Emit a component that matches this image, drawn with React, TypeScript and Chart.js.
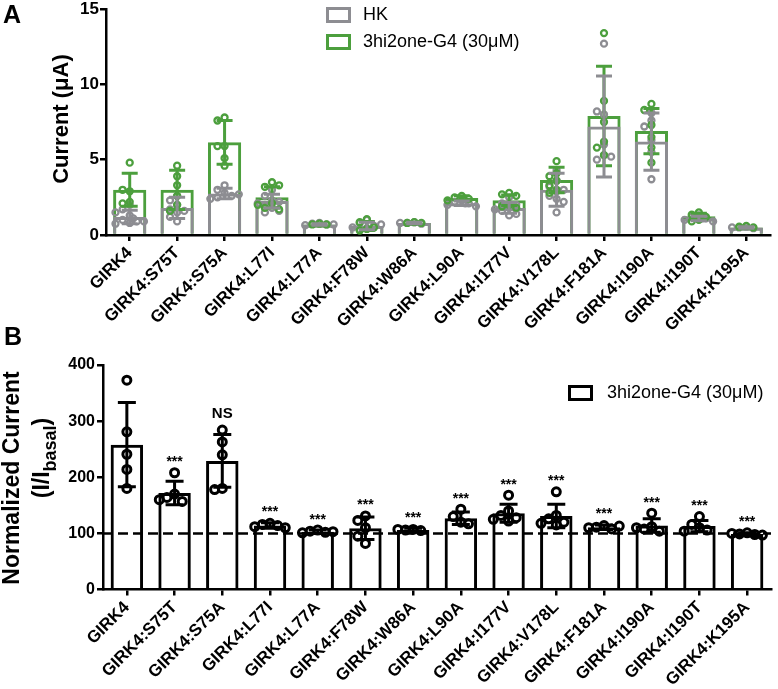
import React, { useEffect, useRef } from "react";
import { Chart, registerables } from "chart.js";

Chart.register(...registerables);

const FONT = "'Liberation Sans', Arial, Helvetica, sans-serif";
const GRAY = "#8d8d92";
const GREEN = "#4c9f3d";
const BLACK = "#000000";

// ---------- data ----------
const categories = [
  "GIRK4", "GIRK4:S75T", "GIRK4:S75A", "GIRK4:L77I", "GIRK4:L77A", "GIRK4:F78W", "GIRK4:W86A",
  "GIRK4:L90A", "GIRK4:I177V", "GIRK4:V178L", "GIRK4:F181A", "GIRK4:I190A", "GIRK4:I190T", "GIRK4:K195A",
];

// Panel A
const panelATitle = "Current (μA)";
const hkLabel = "HK";
const g4Label = "3hi2one-G4 (30μM)";
const topMin = 0;
const topMax = 15;
const topStep = 5;
const hkMean = [1.2, 1.8, 2.75, 2.25, 0.7, 0.6, 0.8, 2.1, 1.8, 3.0, 7.2, 6.2, 1.1, 0.5];
const hkSD = [0.45, 0.7, 0.35, 0.45, 0.05, 0.25, 0.05, 0.15, 0.35, 1.1, 3.35, 1.9, 0.15, 0.05];
const g4Mean = [3.0, 3.0, 6.15, 2.5, 0.7, 0.6, 0.8, 2.45, 2.3, 3.65, 7.9, 6.9, 1.25, 0.5];
const g4SD = [1.1, 1.3, 1.45, 0.7, 0.05, 0.3, 0.05, 0.15, 0.35, 0.85, 3.3, 1.5, 0.2, 0.05];
const hkPoints = [
  [2.0, 1.7, 1.3, 1.0, 0.9, 0.8, 0.75, 0.9, 1.1, 1.5],
  [2.6, 2.3, 2.0, 1.7, 1.5, 1.2, 0.9, 1.6],
  [3.3, 3.0, 2.8, 2.6, 2.5, 2.4, 2.7],
  [3.0, 2.6, 2.3, 2.0, 1.8, 1.6, 1.5, 2.2, 2.1],
  [0.8, 0.75, 0.7, 0.65, 0.7],
  [1.0, 0.8, 0.6, 0.45, 0.35, 0.5, 0.7],
  [0.85, 0.8, 0.75, 0.8],
  [2.3, 2.2, 2.1, 2.0, 1.9, 2.1],
  [2.5, 2.1, 1.8, 1.6, 1.4, 1.3, 2.0, 1.7],
  [4.3, 3.6, 3.2, 2.9, 2.6, 2.4, 1.5, 3.0, 2.2],
  [12.7, 8.0, 5.3, 5.0, 5.2, 6.0, 8.2],
  [8.1, 7.6, 7.2, 6.3, 5.5, 3.7],
  [1.3, 1.2, 1.1, 1.0, 0.9, 1.1],
  [0.55, 0.5, 0.45, 0.5],
];
const g4Points = [
  [4.8, 2.9, 3.0, 2.2, 2.1],
  [4.6, 3.9, 3.3, 2.6, 2.0, 1.6],
  [7.8, 7.6, 5.9, 5.1, 4.6, 5.9],
  [3.5, 3.2, 3.3, 2.1, 1.8, 1.7, 2.0],
  [0.75, 0.7, 0.7],
  [1.05, 0.85, 0.4, 0.3, 0.5],
  [0.85, 0.8, 0.8],
  [2.6, 2.5, 2.4, 2.3],
  [2.8, 2.7, 2.6, 2.0, 1.9, 1.8],
  [4.9, 4.1, 3.9, 3.6, 3.3, 3.0, 2.8],
  [13.4, 8.9, 6.2, 5.8, 5.3, 7.5],
  [8.7, 8.3, 6.5, 5.8, 4.8, 7.3],
  [1.5, 1.35, 1.2, 1.0, 0.9],
  [0.6, 0.55, 0.5],
];

// Panel B
const panelBTitleLine1 = "Normalized Current";
const panelBTitleMain = "(I/I";
const panelBTitleSub = "basal";
const panelBTitleEnd = ")";
const botMin = 0;
const botMax = 400;
const botStep = 100;
const baseline = 100;
const normMean = [258, 172, 229, 114, 103, 109, 106, 127, 136, 131, 111, 114, 113, 99];
const normSD = [75, 21, 47, 5, 3, 20, 3, 11, 16, 21, 4, 12, 10, 2];
const normPoints = [
  [373, 281, 241, 214, 180],
  [208, 170, 164, 157, 160],
  [284, 263, 240, 180, 178],
  [118, 116, 114, 112, 110],
  [106, 104, 102, 101, 103],
  [131, 123, 110, 95, 82],
  [107, 106, 105, 107],
  [143, 130, 120, 117],
  [168, 140, 132, 128, 122, 125],
  [174, 132, 126, 120, 115, 118],
  [114, 111, 108, 110, 113],
  [136, 112, 108, 104, 110],
  [130, 116, 110, 106, 104],
  [101, 99, 98, 100, 97],
];
const significance = ["", "***", "NS", "***", "***", "***", "***", "***", "***", "***", "***", "***", "***", "***"];

// ---------- helpers ----------
function swarm(values: number[], yDist: number, xStep: number, maxSteps: number): number[] {
  const placed: { x: number; y: number }[] = [];
  const out: number[] = [];
  values.forEach((v) => {
    let chosen = 0;
    let found = false;
    for (let k = 0; k <= maxSteps * 2; k++) {
      const m = Math.ceil(k / 2) * (k % 2 === 1 ? -1 : 1);
      const x = m * xStep;
      const ok = placed.every((p) => Math.abs(p.y - v) >= yDist || Math.abs(p.x - x) >= xStep * 0.99);
      if (ok) {
        chosen = x;
        found = true;
        break;
      }
    }
    if (!found) chosen = ((placed.length % 3) - 1) * xStep * 0.5;
    placed.push({ x: chosen, y: v });
    out.push(chosen);
  });
  return out;
}

function pointsData(groups: number[][], yDist: number, xStep: number, maxSteps: number) {
  const data: { x: number; y: number }[] = [];
  groups.forEach((vals, i) => {
    const offs = swarm(vals, yDist, xStep, maxSteps);
    vals.forEach((v, k) => data.push({ x: i + offs[k], y: v }));
  });
  return data;
}

function barData(means: number[]) {
  return means.map((v, i) => ({ x: i, y: v }));
}

function drawErr(chart: any, means: number[], sds: number[], color: string, lw: number, capHalf: number) {
  const { ctx } = chart;
  const xs = chart.scales.x;
  const ys = chart.scales.y;
  ctx.save();
  ctx.strokeStyle = color;
  ctx.lineWidth = lw;
  means.forEach((m, i) => {
    const x = xs.getPixelForValue(i);
    const yt = ys.getPixelForValue(m + sds[i]);
    const yb = ys.getPixelForValue(Math.max(0, m - sds[i]));
    ctx.beginPath();
    ctx.moveTo(x, yt);
    ctx.lineTo(x, yb);
    ctx.moveTo(x - capHalf, yt);
    ctx.lineTo(x + capHalf, yt);
    ctx.moveTo(x - capHalf, yb);
    ctx.lineTo(x + capHalf, yb);
    ctx.stroke();
  });
  ctx.restore();
}

function axisOpts(min: number, max: number, step: number, size: number, width: number, pad: number) {
  return {
    type: "linear",
    min,
    max,
    ticks: { stepSize: step, color: BLACK, padding: pad, font: { family: FONT, size, weight: "bold" } },
    grid: { display: true, drawOnChartArea: false, drawTicks: true, tickLength: 6, color: BLACK, lineWidth: 2.5 },
    border: { display: true, color: BLACK, width: 2.5 },
    afterFit: (s: any) => {
      s.width = width;
      s.paddingTop = 0;
      s.paddingBottom = 0;
    },
  };
}

function xOpts(height: number, fontSize: number) {
  return {
    type: "linear",
    min: -0.5,
    max: categories.length - 0.5,
    offset: false,
    z: 1,
    grid: { display: true, offset: false, drawOnChartArea: false, drawTicks: true, tickLength: 6, color: BLACK, lineWidth: 2.5 },
    border: { display: true, color: BLACK, width: 2.5 },
    afterBuildTicks: (s: any) => {
      s.ticks = categories.map((_, i) => ({ value: i }));
    },
    ticks: {
      color: BLACK,
      autoSkip: false,
      minRotation: 45,
      maxRotation: 45,
      padding: 2,
      font: { family: FONT, size: fontSize, weight: "bold" },
      callback: (v: any) => categories[Math.round(Number(v))] ?? "",
    },
    afterFit: (s: any) => {
      s.height = height;
      s.paddingLeft = 0;
      s.paddingRight = 0;
    },
  };
}

function legendItem(ctx: CanvasRenderingContext2D, bx: number, cy: number, color: string, text: string, tx: number) {
  ctx.save();
  ctx.strokeStyle = color;
  ctx.lineWidth = 3;
  ctx.strokeRect(bx, cy - 6.5, 22, 13);
  ctx.fillStyle = BLACK;
  ctx.font = `18px ${FONT}`;
  ctx.textBaseline = "middle";
  ctx.textAlign = "left";
  ctx.fillText(text, tx, cy);
  ctx.restore();
}

// ---------- configs ----------
function topConfig(): any {
  return {
    type: "bar",
    data: {
      datasets: [
        {
          type: "scatter",
          label: g4Label + " points",
          data: pointsData(g4Points, 0.45, 0.15, 2),
          pointRadius: 3,
          pointBorderWidth: 2.3,
          pointBorderColor: GREEN,
          pointBackgroundColor: "rgba(0,0,0,0)",
          showLine: false,
          order: 0,
        },
        {
          type: "scatter",
          label: hkLabel + " points",
          data: pointsData(hkPoints, 0.45, 0.15, 2),
          pointRadius: 3,
          pointBorderWidth: 2.3,
          pointBorderColor: GRAY,
          pointBackgroundColor: "rgba(0,0,0,0)",
          showLine: false,
          order: 1,
        },
        {
          label: hkLabel,
          data: barData(hkMean),
          grouped: false,
          backgroundColor: "rgba(0,0,0,0)",
          borderColor: GRAY,
          borderWidth: 3,
          categoryPercentage: 1,
          barPercentage: 0.7,
          order: 2,
        },
        {
          label: g4Label,
          data: barData(g4Mean),
          grouped: false,
          backgroundColor: "rgba(0,0,0,0)",
          borderColor: GREEN,
          borderWidth: 3,
          categoryPercentage: 1,
          barPercentage: 0.7,
          order: 3,
        },
      ],
    },
    options: {
      responsive: false,
      animation: false,
      layout: { padding: { top: 9, left: 0, right: 8, bottom: 0 } },
      plugins: { legend: { display: false }, tooltip: { enabled: false } },
      scales: {
        x: xOpts(95, 17),
        y: axisOpts(topMin, topMax, topStep, 17, 106, 1),
      },
    },
    plugins: [
      {
        id: "panelA",
        afterDatasetsDraw(chart: any) {
          drawErr(chart, g4Mean, g4SD, GREEN, 3, 8);
          drawErr(chart, hkMean, hkSD, GRAY, 3, 8);
        },
        afterDraw(chart: any) {
          const ctx = chart.ctx as CanvasRenderingContext2D;
          ctx.save();
          ctx.fillStyle = BLACK;
          ctx.font = `bold 25px ${FONT}`;
          ctx.textBaseline = "alphabetic";
          ctx.textAlign = "left";
          ctx.fillText("A", 3, 23);
          ctx.translate(62, 119);
          ctx.rotate(-Math.PI / 2);
          ctx.font = `bold 22px ${FONT}`;
          ctx.textAlign = "center";
          ctx.textBaseline = "middle";
          ctx.fillText(panelATitle, 0, 0);
          ctx.restore();
          legendItem(ctx, 327.5, 15, GRAY, hkLabel, 363);
          legendItem(ctx, 327.5, 42, GREEN, g4Label, 363);
        },
      },
    ],
  };
}

function botConfig(): any {
  return {
    type: "bar",
    data: {
      datasets: [
        {
          type: "scatter",
          label: g4Label + " points",
          data: pointsData(normPoints, 17, 0.16, 2),
          pointRadius: 4,
          pointBorderWidth: 3,
          pointBorderColor: BLACK,
          pointBackgroundColor: "rgba(0,0,0,0)",
          showLine: false,
          order: 0,
        },
        {
          label: g4Label,
          data: barData(normMean),
          backgroundColor: "rgba(0,0,0,0)",
          borderColor: BLACK,
          borderWidth: 3,
          categoryPercentage: 1,
          barPercentage: 0.68,
          order: 1,
        },
      ],
    },
    options: {
      responsive: false,
      animation: false,
      layout: { padding: { top: 43, left: 0, right: 3, bottom: 0 } },
      plugins: { legend: { display: false }, tooltip: { enabled: false } },
      scales: {
        x: xOpts(99.5, 17),
        y: axisOpts(botMin, botMax, botStep, 16, 103, 2),
      },
    },
    plugins: [
      {
        id: "panelB",
        beforeDatasetsDraw(chart: any) {
          const { ctx, chartArea } = chart;
          const y = chart.scales.y.getPixelForValue(baseline);
          ctx.save();
          ctx.strokeStyle = BLACK;
          ctx.lineWidth = 2.5;
          ctx.setLineDash([10, 5]);
          ctx.beginPath();
          ctx.moveTo(chartArea.left, y);
          ctx.lineTo(chartArea.right, y);
          ctx.stroke();
          ctx.restore();
        },
        afterDatasetsDraw(chart: any) {
          drawErr(chart, normMean, normSD, BLACK, 3, 9);
          const ctx = chart.ctx as CanvasRenderingContext2D;
          const xs = chart.scales.x;
          const ys = chart.scales.y;
          ctx.save();
          ctx.fillStyle = BLACK;
          ctx.textAlign = "center";
          significance.forEach((s, i) => {
            if (!s) return;
            const top = Math.max(Math.max(...normPoints[i]), normMean[i] + normSD[i]);
            const x = xs.getPixelForValue(i);
            const yTop = ys.getPixelForValue(top) - 5.5;
            if (s === "NS") {
              ctx.font = `bold 15px ${FONT}`;
              ctx.textBaseline = "middle";
              ctx.fillText(s, x, yTop - 11);
            } else {
              ctx.font = `bold 14px ${FONT}`;
              ctx.textBaseline = "alphabetic";
              ctx.fillText(s, x, yTop - 9 + 8);
            }
          });
          ctx.restore();
        },
        afterDraw(chart: any) {
          const ctx = chart.ctx as CanvasRenderingContext2D;
          ctx.save();
          ctx.fillStyle = BLACK;
          ctx.font = `bold 25px ${FONT}`;
          ctx.textBaseline = "alphabetic";
          ctx.textAlign = "left";
          ctx.fillText("B", 4, 23);
          ctx.restore();

          ctx.save();
          ctx.fillStyle = BLACK;
          ctx.translate(13, 156);
          ctx.rotate(-Math.PI / 2);
          ctx.font = `bold 23px ${FONT}`;
          ctx.textAlign = "center";
          ctx.textBaseline = "middle";
          ctx.fillText(panelBTitleLine1, 0, 0);
          ctx.restore();

          ctx.save();
          ctx.fillStyle = BLACK;
          ctx.translate(43, 136);
          ctx.rotate(-Math.PI / 2);
          ctx.textBaseline = "middle";
          ctx.textAlign = "left";
          const mainFont = `bold 23px ${FONT}`;
          const subFont = `bold 18px ${FONT}`;
          ctx.font = mainFont;
          const w1 = ctx.measureText(panelBTitleMain).width;
          const w3 = ctx.measureText(panelBTitleEnd).width;
          ctx.font = subFont;
          const w2 = ctx.measureText(panelBTitleSub).width;
          const start = -(w1 + w2 + w3) / 2;
          ctx.font = mainFont;
          ctx.fillText(panelBTitleMain, start, 0);
          ctx.font = subFont;
          ctx.fillText(panelBTitleSub, start + w1, 8);
          ctx.font = mainFont;
          ctx.fillText(panelBTitleEnd, start + w1 + w2, 0);
          ctx.restore();

          legendItem(ctx, 569.5, 71, BLACK, g4Label, 607);
        },
      },
    ],
  };
}

export default function App() {
  const topRef = useRef<HTMLCanvasElement>(null);
  const botRef = useRef<HTMLCanvasElement>(null);
  useEffect(() => {
    const a = new Chart(topRef.current as HTMLCanvasElement, topConfig());
    const b = new Chart(botRef.current as HTMLCanvasElement, botConfig());
    return () => {
      a.destroy();
      b.destroy();
    };
  }, []);
  return (
    <div style={{ position: "absolute", left: 0, top: 0, width: 778, height: 689, background: "#ffffff" }}>
      <canvas ref={topRef} width={778} height={330} style={{ position: "absolute", left: 0, top: 0 }} />
      <canvas ref={botRef} width={778} height={367} style={{ position: "absolute", left: 0, top: 322 }} />
    </div>
  );
}
